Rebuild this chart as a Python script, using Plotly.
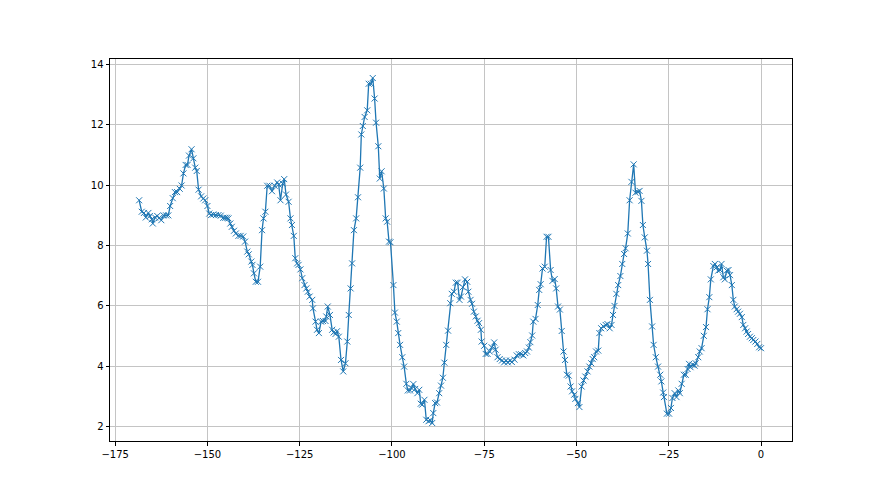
import plotly.graph_objects as go

# x positions and readings
x_vals = [
    -168.5, -167.8, -167.2, -166.7, -166.0, -165.6, -165.1, -164.8, -164.2, -163.6,
    -163.1, -162.5, -161.9, -161.2, -160.6, -160.1, -159.4, -158.8, -158.2, -157.5,
    -157.0, -156.5, -155.9, -155.4, -155.0, -154.3, -153.8, -153.3, -152.9, -152.4,
    -151.7, -151.1, -150.6, -150.0, -149.5, -149.0, -148.4, -147.7, -147.0, -146.4,
    -145.7, -145.2, -144.7, -144.3, -143.8, -143.4, -142.8, -142.3, -141.6, -141.0,
    -140.3, -139.8, -139.2, -138.8, -138.1, -137.8, -137.4, -136.9, -136.3, -135.7,
    -135.2, -134.8, -134.3, -133.8, -133.2, -132.5, -131.8, -131.1, -130.7, -130.2,
    -129.6, -129.2, -128.7, -128.0, -127.5, -127.1, -126.6, -126.2, -125.7, -125.3,
    -124.8, -124.3, -123.7, -123.2, -122.8, -122.3, -121.6, -121.4, -120.7, -120.3,
    -119.8, -119.2, -118.7, -118.0, -117.8, -117.4, -116.8, -116.2, -115.8, -115.3,
    -114.9, -114.4, -113.8, -113.2, -112.6, -112.1, -111.7, -111.2, -110.8, -110.3,
    -109.7, -109.2, -108.6, -108.3, -107.9, -107.4, -106.7, -106.3, -105.7, -105.2,
    -104.7, -104.3, -103.7, -103.3, -102.8, -102.2, -101.7, -101.3, -100.8, -100.4,
    -99.6, -99.2, -98.7, -98.3, -97.8, -97.2, -96.7, -96.1, -95.7, -95.1,
    -94.7, -94.2, -93.7, -93.1, -92.6, -92.2, -91.8, -91.2, -90.7, -90.1,
    -89.6, -89.1, -88.8, -88.3, -87.8, -87.2, -86.7, -86.2, -85.8, -85.3,
    -84.8, -84.2, -83.8, -83.2, -82.7, -82.2, -81.7, -81.3, -80.8, -80.2,
    -79.6, -79.3, -78.7, -78.3, -77.8, -77.3, -76.8, -76.4, -75.9, -75.7,
    -75.0, -74.6, -74.1, -73.5, -73.0, -72.3, -71.9, -71.4, -70.8, -70.2,
    -69.6, -69.1, -68.6, -68.0, -67.5, -66.8, -66.2, -65.6, -65.0, -64.4,
    -63.9, -63.4, -62.9, -62.5, -62.0, -61.7, -61.1, -60.5, -60.1, -59.7,
    -59.2, -58.6, -58.1, -57.6, -57.0, -56.5, -55.9, -55.5, -55.0, -54.5,
    -54.0, -53.5, -53.1, -52.6, -52.1, -51.6, -51.2, -50.6, -50.3, -49.6,
    -49.2, -48.6, -48.1, -47.6, -47.0, -46.5, -46.0, -45.6, -45.2, -44.7,
    -44.1, -43.8, -43.3, -42.7, -42.1, -41.6, -41.0, -40.5, -40.1, -39.7,
    -39.2, -38.7, -38.1, -37.6, -37.1, -36.7, -36.1, -35.6, -35.1, -34.5,
    -34.0, -33.4, -32.9, -32.4, -32.0, -31.5, -30.9, -30.6, -30.1, -29.5,
    -29.1, -28.5, -27.9, -27.3, -27.0, -26.5, -26.3, -25.5, -24.9, -24.4,
    -24.0, -23.4, -22.9, -22.4, -22.0, -21.5, -20.9, -20.4, -19.9, -19.5,
    -19.1, -18.6, -18.0, -17.7, -17.0, -16.6, -16.1, -15.5, -14.9, -14.5,
    -14.0, -13.6, -12.9, -12.5, -12.0, -11.6, -11.1, -10.7, -10.2, -9.8,
    -9.3, -8.8, -8.4, -7.9, -7.5, -7.1, -6.6, -6.2, -5.7, -5.2,
    -4.8, -4.3, -3.9, -3.5, -3.0, -2.5, -2.1, -1.5, -1.0, -0.5,
    0.0,
]
y_vals = [
    9.50, 9.12, 9.08, 8.93, 9.08, 8.98, 8.87, 8.73, 8.93, 8.98,
    8.91, 8.84, 9.00, 9.00, 9.00, 9.31, 9.57, 9.77, 9.77, 9.88,
    9.99, 10.39, 10.67, 10.67, 10.98, 11.19, 10.89, 10.58, 10.47, 9.85,
    9.63, 9.56, 9.50, 9.31, 9.06, 9.01, 9.03, 9.01, 9.01, 8.99,
    8.92, 8.92, 8.92, 8.90, 8.73, 8.62, 8.49, 8.40, 8.32, 8.32,
    8.30, 8.13, 7.80, 7.71, 7.47, 7.36, 7.08, 6.80, 6.80, 7.30,
    8.51, 8.90, 9.12, 9.98, 9.98, 9.80, 9.98, 10.09, 10.02, 9.50,
    10.05, 10.20, 9.69, 9.45, 8.90, 8.68, 8.32, 7.58, 7.41, 7.36,
    7.21, 6.92, 6.69, 6.58, 6.47, 6.31, 6.20, 5.92, 5.48, 5.21,
    5.10, 5.48, 5.50, 5.50, 5.65, 5.98, 5.70, 5.21, 5.12, 5.07,
    5.16, 4.98, 4.21, 3.83, 4.10, 4.82, 5.70, 6.58, 7.41, 8.51,
    8.90, 9.60, 10.58, 11.68, 11.96, 12.26, 12.48, 13.36, 13.36, 13.55,
    12.87, 12.07, 11.29, 10.22, 10.46, 9.89, 8.90, 8.79, 8.13, 8.11,
    6.69, 5.78, 5.48, 5.10, 4.71, 4.30, 3.99, 3.42, 3.20, 3.20,
    3.28, 3.41, 3.25, 3.11, 3.22, 2.76, 2.73, 2.89, 2.23, 2.18,
    2.21, 2.12, 2.45, 2.78, 2.80, 3.11, 3.36, 3.62, 4.12, 4.71,
    5.18, 6.09, 6.40, 6.47, 6.77, 6.77, 6.20, 6.31, 6.62, 6.88,
    6.80, 6.47, 6.20, 6.07, 5.81, 5.65, 5.51, 5.43, 5.21, 4.82,
    4.68, 4.41, 4.41, 4.49, 4.63, 4.79, 4.55, 4.30, 4.24, 4.19,
    4.13, 4.19, 4.13, 4.19, 4.14, 4.22, 4.36, 4.40, 4.40, 4.36,
    4.44, 4.49, 4.62, 4.80, 5.02, 5.48, 5.57, 6.03, 6.53, 6.72,
    7.24, 7.30, 8.29, 8.29, 7.19, 6.83, 6.89, 6.58, 5.98, 5.88,
    5.17, 4.49, 4.21, 3.72, 3.69, 3.33, 3.17, 3.06, 2.92, 2.78,
    2.65, 3.33, 3.53, 3.66, 3.83, 3.99, 4.10, 4.24, 4.30, 4.49,
    4.52, 5.10, 5.26, 5.32, 5.37, 5.40, 5.26, 5.37, 5.70, 6.00,
    6.40, 6.69, 6.99, 7.39, 7.72, 7.91, 8.40, 9.50, 10.11, 10.69,
    9.75, 9.78, 9.81, 9.48, 8.68, 8.27, 7.83, 7.39, 6.20, 5.32,
    4.71, 4.30, 3.99, 3.72, 3.50, 3.13, 2.98, 2.43, 2.43, 2.62,
    2.95, 3.11, 2.98, 3.20, 3.11, 3.42, 3.72, 3.72, 3.91, 4.08,
    3.97, 4.05, 4.02, 4.10, 4.30, 4.49, 4.60, 5.01, 5.30, 5.89,
    6.29, 6.88, 7.32, 7.39, 7.28, 7.17, 7.19, 7.39, 6.95, 6.88,
    7.17, 7.19, 7.02, 6.69, 6.20, 5.98, 5.89, 5.81, 5.74, 5.63,
    5.37, 5.26, 5.15, 5.07, 4.98, 4.93, 4.87, 4.82, 4.74, 4.63,
    4.60,
]

x_ticks = [-175, -150, -125, -100, -75, -50, -25, 0]
y_ticks = [2, 4, 6, 8, 10, 12, 14]

fig = go.Figure()
fig.add_trace(go.Scatter(
    x=x_vals,
    y=y_vals,
    mode="lines+markers",
    line=dict(color="#1f77b4", width=1.3),
    marker=dict(symbol="x-thin", size=6, color="#1f77b4",
                line=dict(color="#1f77b4", width=1)),
    showlegend=False,
))

axis_style = dict(
    showline=True, mirror=True, linecolor="black", linewidth=1,
    showgrid=True, gridcolor="#c4c4c4", gridwidth=0.8,
    zeroline=False, ticks="outside", ticklen=3.5, tickwidth=0.8,
    tickcolor="black", tickfont=dict(family="DejaVu Sans", size=10, color="black"),
)
fig.update_xaxes(range=[-176.4, 8.4], tickvals=x_ticks, **axis_style)
fig.update_yaxes(range=[1.525, 14.18], tickvals=y_ticks, **axis_style)

# page body adds an 8px offset, so the figure is sized and margined to match
fig.update_layout(
    width=872, height=487,
    margin=dict(l=102, r=88, t=51, b=54),
    plot_bgcolor="white", paper_bgcolor="white",
    font=dict(family="DejaVu Sans", size=10, color="black"),
)

fig.write_html("out.html")
